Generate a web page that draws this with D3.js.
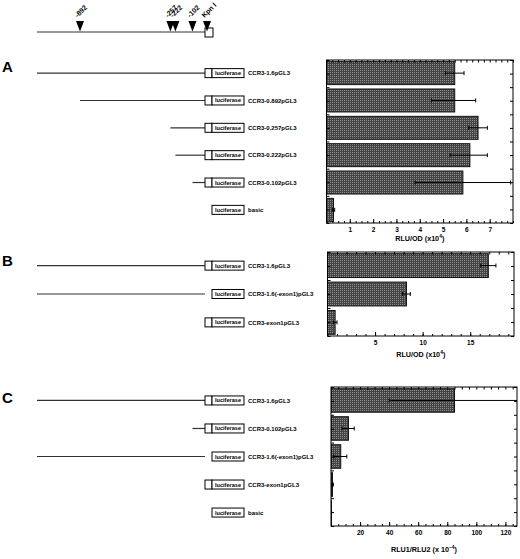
<!DOCTYPE html>
<html lang="en">
<head>
<meta charset="utf-8">
<title>CCR3 promoter constructs</title>
<script src="https://cdn.jsdelivr.net/npm/d3@7"></script>
<style type="text/css">
	body { margin: 0; background: #fff; }
	svg { display: block; font-family: "Liberation Sans", Arial, sans-serif; font-weight: bold; }
	.frame { fill: none; stroke: #000; stroke-width: 1; }
	.bar { stroke: #111; stroke-width: 1; }
	.err { stroke: #000; stroke-width: 1; fill: none; }
	.gene { stroke: #333; stroke-width: 1.2; }
	.box { fill: #fff; stroke: #000; stroke-width: 1; }
	.axis text { font-family: "Liberation Sans", Arial, sans-serif; font-weight: bold; font-size: 6.5px; fill: #000; }
	.axis line { stroke: #000; }
	.axis path { display: none; }
</style>
</head>
<body>
<script>
	//Canvas
	var w = 520;
	var h = 559;

	//Promoter map: restriction / deletion sites (bp from start of exon 1)
	var siteBp = [-892, -257, -222, -102, 0];
	var siteLabels = ["-892", "-257", "-222", "-102", "Kpn I"];

	//Panel A
	var namesA = ["CCR3-1.6pGL3", "CCR3-0.892pGL3", "CCR3-0.257pGL3", "CCR3-0.222pGL3", "CCR3-0.102pGL3", "basic"];
	var startA = [-1600, -892, -257, -222, -102, null];
	var exonA = [true, true, true, true, true, false];
	var meanA = [5.5, 5.5, 6.5, 6.15, 5.85, 0.3];
	var lowA = [5.1, 4.5, 6.1, 5.3, 3.8, 0.25];
	var highA = [5.9, 6.4, 6.9, 6.9, 7.9, 0.35];
	var ticksA = [1, 2, 3, 4, 5, 6, 7];

	//Panel B
	var namesB = ["CCR3-1.6pGL3", "CCR3-1.6(-exon1)pGL3", "CCR3-exon1pGL3"];
	var startB = [-1600, -1600, null];
	var exonB = [true, false, true];
	var meanB = [16.9, 8.3, 0.8];
	var lowB = [16.1, 7.9, 0.6];
	var highB = [17.7, 8.7, 1.0];
	var ticksB = [5, 10, 15];

	//Panel C
	var namesC = ["CCR3-1.6pGL3", "CCR3-0.102pGL3", "CCR3-1.6(-exon1)pGL3", "CCR3-exon1pGL3", "basic"];
	var startC = [-1600, -102, -1600, null, null];
	var exonC = [true, true, false, true, false];
	var meanC = [85, 12, 6.7, 1.0, 0.3];
	var lowC = [40, 7.6, 2, 0.7, 0.2];
	var highC = [130, 16, 10.9, 1.6, 0.4];
	var ticksC = [20, 40, 60, 80, 100, 120];

	var svg = d3.select("body")
				.append("svg")
				.attr("width", w)
				.attr("height", h);

	//Fine dithered fill like the printed bars
	var pat = svg.append("defs")
				.append("pattern")
				.attr("id", "dots")
				.attr("width", 2)
				.attr("height", 2)
				.attr("patternUnits", "userSpaceOnUse");
	pat.append("rect").attr("width", 2).attr("height", 2).attr("fill", "#444");
	pat.append("rect").attr("width", 1).attr("height", 1).attr("fill", "#8e8e8e");

	//bp -> x for the promoter drawings (1.6 kb line is not to scale)
	var mapX = d3.scaleLinear()
				.domain([-1600, -892, 0])
				.range([37, 80, 207]);

	var exonW = 7, lucW = 32, boxH = 9;
	var exonLeft = mapX(0) - 2;

	//Top promoter map
	var mapY = 32;
	svg.append("line")
		.attr("class", "gene")
		.attr("x1", mapX(-1600))
		.attr("x2", exonLeft)
		.attr("y1", mapY)
		.attr("y2", mapY);

	svg.append("rect")
		.attr("class", "box")
		.attr("x", exonLeft)
		.attr("y", mapY - 4)
		.attr("width", exonW + 1)
		.attr("height", boxH);

	svg.selectAll(".site")
		.data(siteBp)
		.enter()
		.append("path")
		.attr("class", "site")
		.attr("d", function(d) {
			var x = mapX(d);
			return "M" + (x - 4) + "," + (mapY - 11) + "L" + (x + 4) + "," + (mapY - 11) + "L" + x + "," + (mapY - 0.5) + "Z";
		})
		.attr("fill", "#000");

	svg.selectAll(".siteLabel")
		.data(siteBp)
		.enter()
		.append("text")
		.attr("class", "siteLabel")
		.attr("transform", function(d) { return "translate(" + (mapX(d) - 2.5) + "," + (mapY - 14) + ") rotate(-45)"; })
		.attr("font-size", "7px")
		.text(function(d, i) { return siteLabels[i]; });

	//Panel letters
	svg.append("text").attr("x", 2).attr("y", 72).attr("font-size", "15px").text("A");
	svg.append("text").attr("x", 2).attr("y", 266).attr("font-size", "15px").text("B");
	svg.append("text").attr("x", 2).attr("y", 403).attr("font-size", "15px").text("C");

	//Draws the construct diagrams and the bar chart for one panel
	function drawPanel(p) {
		var x = d3.scaleLinear()
					.domain(p.domain)
					.range([p.left, p.right]);

		var y = d3.scaleBand()
					.domain(p.names)
					.range([p.top, p.bottom])
					.paddingInner(0.16)
					.paddingOuter(0.06);

		var g = svg.append("g");

		//Constructs on the left
		p.names.forEach(function(name, i) {
			var cy = y(name) + y.bandwidth() / 2;
			if (p.start[i] !== null) {
				g.append("line")
					.attr("class", "gene")
					.attr("x1", mapX(p.start[i]))
					.attr("x2", exonLeft)
					.attr("y1", cy)
					.attr("y2", cy);
			}
			if (p.exon[i]) {
				g.append("rect")
					.attr("class", "box")
					.attr("x", exonLeft)
					.attr("y", cy - boxH / 2)
					.attr("width", exonW)
					.attr("height", boxH);
			}
			g.append("rect")
				.attr("class", "box")
				.attr("x", exonLeft + exonW)
				.attr("y", cy - boxH / 2)
				.attr("width", lucW)
				.attr("height", boxH)
				.attr("stroke-width", 1.2);
			g.append("text")
				.attr("x", exonLeft + exonW + lucW / 2)
				.attr("y", cy + 2)
				.attr("text-anchor", "middle")
				.attr("font-size", "5.6px")
				.text("luciferase");
			g.append("text")
				.attr("x", exonLeft + exonW + lucW + 4)
				.attr("y", cy + 2.2)
				.attr("font-size", "6px")
				.text(name);
		});

		//Clip long error bars at the frame
		var clipId = "clip" + p.id;
		svg.select("defs").append("clipPath")
			.attr("id", clipId)
			.append("rect")
			.attr("x", p.left)
			.attr("y", p.top)
			.attr("width", p.right - p.left)
			.attr("height", p.bottom - p.top);

		var plot = g.append("g").attr("clip-path", "url(#" + clipId + ")");

		plot.selectAll(".bar")
			.data(p.mean)
			.enter()
			.append("rect")
			.attr("class", "bar")
			.attr("x", x(0))
			.attr("y", function(d, i) { return y(p.names[i]); })
			.attr("width", function(d) { return x(d) - x(0); })
			.attr("height", y.bandwidth())
			.attr("fill", "url(#dots)");

		plot.selectAll(".err")
			.data(p.mean)
			.enter()
			.append("path")
			.attr("class", "err")
			.attr("d", function(d, i) {
				var cy = y(p.names[i]) + y.bandwidth() / 2;
				var x0 = x(p.low[i]), x1 = x(p.high[i]);
				return "M" + x0 + "," + cy + "H" + x1 +
					"M" + x0 + "," + (cy - 2) + "V" + (cy + 2) +
					"M" + x1 + "," + (cy - 2) + "V" + (cy + 2);
			});

		//Axes: inward ticks all round
		var minor = d3.range(p.domain[0], p.domain[1] + 1e-9, p.minor);

		g.append("g")
			.attr("class", "axis")
			.attr("transform", "translate(0," + p.bottom + ")")
			.call(d3.axisBottom(x).tickValues(minor).tickSize(-2).tickFormat(""));

		g.append("g")
			.attr("class", "axis")
			.attr("transform", "translate(0," + p.bottom + ")")
			.call(d3.axisBottom(x).tickValues(p.ticks).tickSize(-4).tickPadding(4))
			.attr("font-family", null)
			.attr("font-size", null);

		g.append("g")
			.attr("class", "axis")
			.attr("transform", "translate(0," + p.top + ")")
			.call(d3.axisTop(x).tickValues(minor).tickSize(-2.5).tickFormat(""));

		var rowEdges = d3.range(p.names.length * 2 + 1).map(function(k) {
			return p.top + k * (p.bottom - p.top) / (p.names.length * 2);
		});
		var yl = d3.scaleIdentity().domain([p.top, p.bottom]);

		g.append("g")
			.attr("class", "axis")
			.attr("transform", "translate(" + p.left + ",0)")
			.call(d3.axisLeft(yl).tickValues(rowEdges).tickSize(-3).tickFormat(""));

		g.append("g")
			.attr("class", "axis")
			.attr("transform", "translate(" + p.right + ",0)")
			.call(d3.axisRight(yl).tickValues(rowEdges).tickSize(-3).tickFormat(""));

		g.append("rect")
			.attr("class", "frame")
			.attr("x", p.left)
			.attr("y", p.top)
			.attr("width", p.right - p.left)
			.attr("height", p.bottom - p.top);

		//Axis title
		var t = g.append("text")
			.attr("x", (p.left + p.right) / 2)
			.attr("y", p.bottom + p.titleGap)
			.attr("text-anchor", "middle")
			.attr("font-size", "7.2px")
			.text(p.title);
		t.append("tspan")
			.attr("font-size", "5px")
			.attr("dy", -3)
			.text(p.sup);
		t.append("tspan")
			.attr("dy", 3)
			.text(")");
	}

	drawPanel({
		id: "A", names: namesA, start: startA, exon: exonA,
		mean: meanA, low: lowA, high: highA, ticks: ticksA, minor: 0.25,
		domain: [0, 8], left: 326.5, right: 513, top: 60, bottom: 223,
		title: "RLU/OD (x10", sup: "4", titleGap: 18
	});

	drawPanel({
		id: "B", names: namesB, start: startB, exon: exonB,
		mean: meanB, low: lowB, high: highB, ticks: ticksB, minor: 1,
		domain: [0, 19.6], left: 327.5, right: 514, top: 252, bottom: 336,
		title: "RLU/OD (x10", sup: "4", titleGap: 21
	});

	drawPanel({
		id: "C", names: namesC, start: startC, exon: exonC,
		mean: meanC, low: lowC, high: highC, ticks: ticksC, minor: 5,
		domain: [0, 128], left: 331, right: 517, top: 387, bottom: 526,
		title: "RLU1/RLU2 (x 10", sup: "\u22124", titleGap: 26
	});
</script>
</body>
</html>
